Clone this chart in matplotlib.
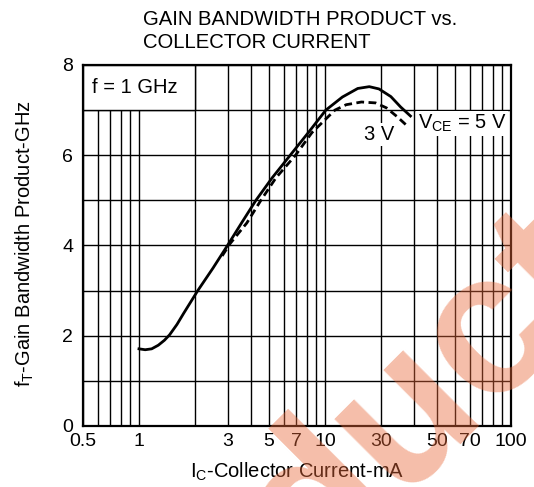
import numpy as np
import matplotlib
matplotlib.use("Agg")
import matplotlib.pyplot as plt
from matplotlib.patches import Rectangle

plt.rcParams['font.family'] = ['Liberation Sans', 'DejaVu Sans']

# f_T vs I_C
ic_5v = [1.0, 1.08, 1.17, 1.27, 1.37, 1.46, 1.6, 1.74, 2.07, 2.5, 2.99, 3.56,
         4.25, 5.2, 6.5, 8.2, 10.1, 12.4, 15.0, 17.3, 19.5, 22.6, 25.5, 28.8]
ft_5v = [1.71, 1.69, 1.71, 1.79, 1.9, 2.02, 2.25, 2.5, 3.0, 3.5, 4.0, 4.5,
         5.0, 5.5, 6.0, 6.52, 7.0, 7.29, 7.48, 7.52, 7.47, 7.3, 7.07, 6.87]

ic_3v = [2.8, 3.1, 3.8, 4.52, 5.45, 6.94, 8.5, 11.3, 13.0, 15.7, 18.7, 21.4, 24.5, 28.0]
ft_3v = [3.77, 4.05, 4.5, 5.0, 5.5, 6.0, 6.5, 7.0, 7.12, 7.18, 7.16, 7.05, 6.85, 6.63]

# tick labels as printed on the original artwork
xtick_pos = [0.5, 1, 3, 5, 7, 10, 20, 40, 60, 100]
xtick_lab = ['0.5', '1', '3', '5', '7', '10', '30', '50', '70', '100']
xgrid = [0.6, 0.7, 0.8, 0.9, 2, 4, 6, 8, 9, 30, 50, 70, 80, 90]
ytick_pos = [0, 2, 4, 6, 8]
ygrid = [1, 3, 5, 7]

W, H = 534, 487
fig = plt.figure(figsize=(W / 100, H / 100), dpi=100)
ax = fig.add_axes([83 / W, 1 - 426 / H, (511 - 83) / W, (426 - 65) / H])

ax.set_xscale('log')
ax.set_xlim(0.5, 100)
ax.set_ylim(0, 8)
ax.set_xticks(xtick_pos)
ax.set_xticklabels(xtick_lab)
ax.set_xticks(xgrid, minor=True)
ax.xaxis.set_minor_formatter(matplotlib.ticker.NullFormatter())
ax.set_yticks(ytick_pos)
ax.set_yticks(ygrid, minor=True)
ax.tick_params(which='both', length=0, labelsize=14)
ax.tick_params(axis='x', pad=5)
ax.tick_params(axis='y', pad=7)
ax.grid(True, which='both', color='black', lw=1.0)
for sp in ax.spines.values():
    sp.set_linewidth(1.6)

# white label box in the top-left corner
ax.add_patch(Rectangle((0.5, 7), 1.5, 1, facecolor='white', edgecolor='black',
                       lw=1.0, zorder=2))
ax.text(0.56, 7.5, 'f = 1 GHz', fontsize=14.5, va='center', ha='left', zorder=5)

ax.plot(ic_5v, ft_5v, color='black', lw=2.0, zorder=3)
ax.plot(ic_3v, ft_3v, color='black', lw=2.0, ls=(0, (2.8, 1.6)), zorder=3)

box = dict(facecolor='white', edgecolor='none', pad=1.5)
ax.text(31.5, 6.7, r'V$_\mathregular{CE}$ = 5 V', fontsize=14.5, ha='left',
        va='center', bbox=box, zorder=4)
ax.text(19.5, 6.45, '3 V', fontsize=14.5, ha='center', va='center',
        bbox=box, zorder=4)

fig.text(143 / W, 1 - 25 / H, 'GAIN BANDWIDTH PRODUCT vs.', fontsize=14.6,
         va='baseline', ha='left')
fig.text(143 / W, 1 - 48 / H, 'COLLECTOR CURRENT', fontsize=14.6,
         va='baseline', ha='left')
fig.text(25 / W, 0.5, r'f$_\mathregular{T}$-Gain Bandwidth Product-GHz',
         fontsize=14.5, rotation=90, ha='center', va='center')
fig.text(297 / W, 1 - 478 / H, r'I$_\mathregular{C}$-Collector Current-mA',
         fontsize=14.5, ha='center', va='baseline')

# watermark across the lower right
fig.text(312 / W, 1 - 585 / H, 'duct', fontsize=146, fontweight='bold',
         color='#E8693A', alpha=0.43, rotation=45, rotation_mode='anchor',
         ha='left', va='baseline', zorder=10)

fig.savefig('out.png', dpi=100)
